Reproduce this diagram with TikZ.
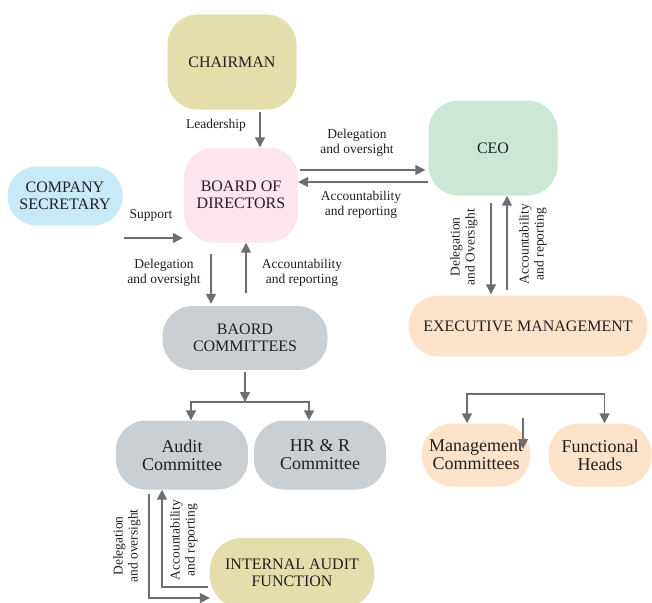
\documentclass[tikz,border=0pt]{standalone}
\usepackage{fontspec}
\setmainfont{Liberation Serif}
\usetikzlibrary{arrows.meta}

\definecolor{chairtan}{HTML}{E3DEAB}
\definecolor{boardpink}{HTML}{FCE5EF}
\definecolor{secblue}{HTML}{C7E9F8}
\definecolor{ceogreen}{HTML}{CBE7D5}
\definecolor{execpeach}{HTML}{FDE3C9}
\definecolor{comgrey}{HTML}{C9CFD3}
\definecolor{arrowgrey}{HTML}{6D6E71}
\definecolor{inkblack}{HTML}{231F20}

\begin{document}
\begin{tikzpicture}[x=1pt, y=-1pt,
    box/.style={fill=#1, rounded corners=30pt, inner sep=0pt, align=center,
                text=inkblack, font=\fontsize{16}{17}\selectfont},
    flow/.style={draw=arrowgrey, line width=1.6pt, -{Triangle[length=10pt,width=10pt]}},
    lbl/.style={align=center, text=inkblack, font=\fontsize{13.5}{15}\selectfont}]

    \useasboundingbox (0,0) rectangle (652,602);

    % boxes
    \node [box=chairtan, minimum width=129, minimum height=95] (chair) at (232,62) {CHAIRMAN};
    \node [box=boardpink, minimum width=114, minimum height=95] (board) at (241,195) {BOARD OF\\DIRECTORS};
    \node [box=secblue, minimum width=115, minimum height=59, rounded corners=29pt] (sec) at (65,196) {COMPANY\\SECRETARY};
    \node [box=ceogreen, minimum width=129, minimum height=95] (ceo) at (493,148) {CEO};
    \node [box=execpeach, minimum width=239, minimum height=61] (exec) at (528,326) {EXECUTIVE MANAGEMENT};
    \node [box=comgrey, minimum width=165, minimum height=64] (bcom) at (245,338) {BAORD\\COMMITTEES};
    \node [box=comgrey, minimum width=132, minimum height=69, font=\fontsize{18}{18}\selectfont] (audit) at (182,455) {Audit\\Committee};
    \node [box=comgrey, minimum width=132, minimum height=69, font=\fontsize{18}{18}\selectfont] (hrr) at (320,455) {HR \& R\\Committee};
    \node [box=execpeach, minimum width=108, minimum height=63, font=\fontsize{18}{18}\selectfont] (mcom) at (476,455) {Management\\Committees};
    \node [box=execpeach, minimum width=103, minimum height=63, font=\fontsize{18}{18}\selectfont] (fhead) at (600,455) {Functional\\Heads};
    \node [box=chairtan, minimum width=164, minimum height=70, rounded corners=32pt] (iaf) at (292,573) {INTERNAL AUDIT\\FUNCTION};

    % split points
    \coordinate (bsplit) at (245,402);
    \coordinate (esplit) at (538,394);
    \coordinate (strayA) at (523,418);
    \coordinate (strayB) at (523,449);

    % connectors
    \draw [flow, shorten <=2pt] ([xshift=28pt]chair.south) -- ([xshift=19pt]board.north);
    \draw [flow, shorten <=2pt, shorten >=3pt] ([yshift=25pt]board.east) -- ([yshift=-22pt]ceo.west);
    \draw [flow] ([yshift=-34pt]ceo.west) -- ([yshift=13pt]board.east);
    \draw [flow, shorten <=1pt, shorten >=1pt] ([yshift=-42pt]sec.east) -- ([yshift=-43pt]board.west);
    \draw [flow, shorten <=11pt, shorten >=2pt] ([xshift=-30pt]board.south) -- ([xshift=-34pt]bcom.north);
    \draw [flow, shorten <=13pt] ([xshift=1pt]bcom.north) -- ([xshift=5pt]board.south);
    \draw [flow, shorten <=7pt, shorten >=1pt] ([xshift=-2pt]ceo.south) -- ([xshift=-37pt]exec.north);
    \draw [flow, shorten <=5pt] ([xshift=-21pt]exec.north) -- ([xshift=14pt]ceo.south);
    \draw [flow, shorten <=2pt] (bcom.south) -- (bsplit);
    \draw [flow] (bsplit) -| ([xshift=9pt]audit.north);
    \draw [flow] (bsplit) -| ([xshift=-11pt]hrr.north);
    \draw [flow] (esplit) -| ([xshift=-9pt]mcom.north);
    \draw [flow] (esplit) -| ([xshift=4.5pt]fhead.north);
    \draw [flow] (strayA) -- (strayB);
    \draw [flow, shorten <=4pt] ([xshift=-33pt]audit.south) |- ([yshift=-25pt]iaf.west);
    \draw [flow, shorten <=2pt] ([yshift=-14pt]iaf.west) -| ([xshift=-20pt]audit.south);

    % labels
    \node [lbl] (lead) at (216,125) {Leadership};
    \node [lbl] (delceo) at (357,143) {Delegation\\and oversight};
    \node [lbl] (accceo) at (361,205) {Accountability\\and reporting};
    \node [lbl] (supp) at (151,215) {Support};
    \node [lbl] (delcom) at (164,273) {Delegation\\and oversight};
    \node [lbl] (acccom) at (302,273) {Accountability\\and reporting};
    \node [lbl, rotate=90] (delexec) at (464,247) {Delegation\\and Oversight};
    \node [lbl, rotate=90] (accexec) at (533,244) {Accountability\\and reporting};
    \node [lbl, rotate=90] (deliaf) at (127,546) {Delegation\\and oversight};
    \node [lbl, rotate=90] (acciaf) at (184,540) {Accountability\\and reporting};
\end{tikzpicture}
\end{document}
